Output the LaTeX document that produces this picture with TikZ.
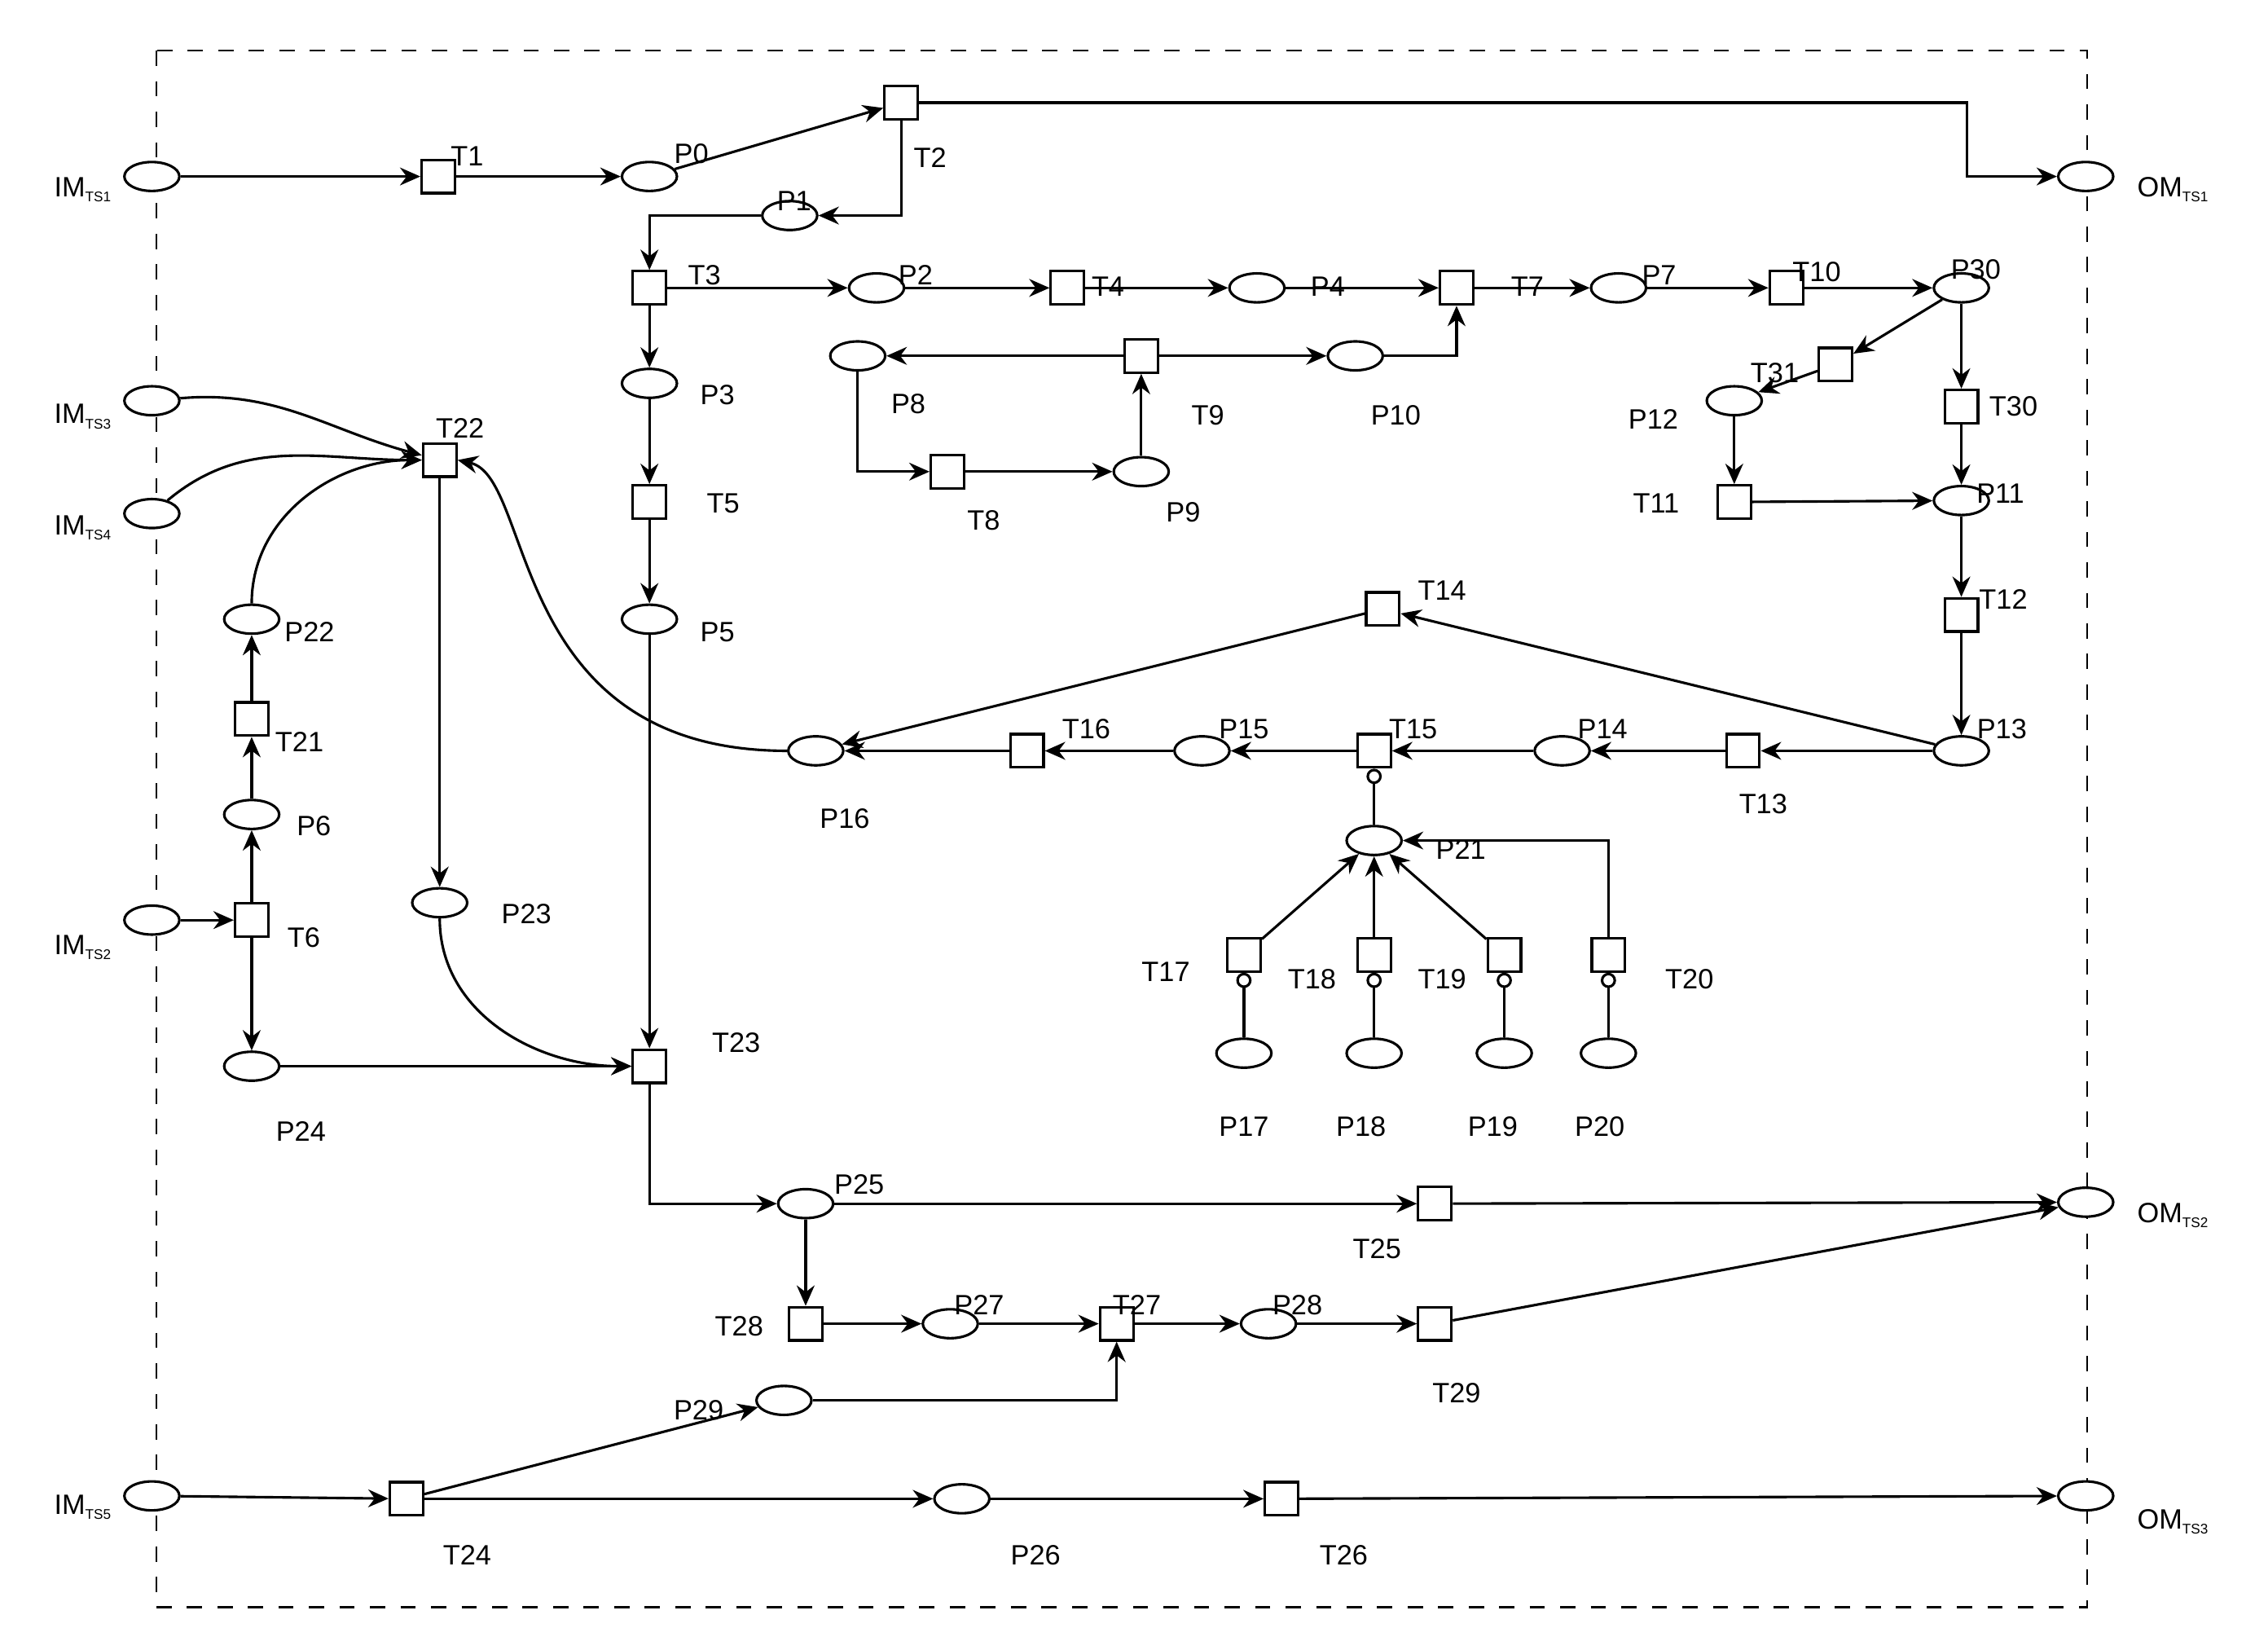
\documentclass[tikz,border=0pt]{standalone}
\usepackage{fontspec}
\setmainfont{Liberation Sans}
\usetikzlibrary{arrows.meta,shapes.geometric}
\begin{document}
\begin{tikzpicture}[x=0.01cm,y=-0.01cm,line width=0.5pt,
  pl/.style={ellipse,draw,fill=white,minimum width=0.38cm,minimum height=0.2cm,inner sep=0pt},
  tk/.style={pl,path picture={\fill (path picture bounding box.center) circle (1.1pt);}},
  tr/.style={rectangle,draw,minimum size=0.23cm,inner sep=0pt},
  lb/.style={font=\fontsize{5.5}{6}\selectfont,inner sep=0pt},
  a/.style={-{Stealth[length=4pt,width=3.5pt]}},
  inh/.style={-{Circle[open,length=3pt,width=3pt]}}]
\useasboundingbox (0,0) rectangle (1568,1140);
\draw[dashed,line width=0.4pt] (108,35) rectangle (1443,1111);
% places
\foreach \n/\x/\y in {P0/449/122,OM1/1442/122,P1/546/149,P2/606/199,P4/869/199,P7/1119/199,P30/1356/199,P10/937/246,P3/449/265,P12/1199/277,P9/789/326,P11/1356/346,P22/174/428,P5/449/428,P16/564/519,P15/831/519,P14/1080/519,P13/1356/519,P6/174/563,P21/950/581,P23/304/624,P24/174/737,P25/557/832,OM2/1442/831,P27/657/915,P28/877/915,P29/542/968,P26/665/1036,OM3/1442/1034}
  \node[pl] (\n) at (\x,\y) {};
\foreach \n/\x/\y in {IM1/105/122,P8/593/246,IM3/105/277,IM4/105/355,IM2/105/636,P17/860/728,P18/950/728,P19/1040/728,P20/1112/728,IM5/105/1034}
  \node[tk] (\n) at (\x,\y) {};
% transitions
\foreach \n/\x/\y in {T1/303/122,T2/623/71,T3/449/199,T4/738/199,T7/1007/199,T10/1235/199,T9/789/246,T31/1269/252,T30/1356/281,T5/449/347,T8/655/326,T11/1199/347,T22/304/318,T12/1356/425,T14/956/421,T21/174/497,T16/710/519,T15/950/519,T13/1205/519,T6/174/636,T17/860/660,T18/950/660,T19/1040/660,T20/1112/660,T23/449/737,T25/992/832,T28/557/915,T27/772/915,T29/992/915,T24/281/1036,T26/886/1036}
  \node[tr] (\n) at (\x,\y) {};
% labels
\foreach \t/\x/\y in {T1/323/108,P0/478/106,T2/643/109,P1/549/139,T3/487/190,P2/633/190,T4/766/198,P4/918/198,T7/1056/198,P7/1147/190,T10/1256/188,P30/1366/186,T31/1227/258,P12/1143/290,T30/1392/281,P11/1383/341,T11/1145/348,P3/496/273,T9/835/287,P10/965/287,P8/628/279,T8/680/360,P9/818/354,T5/500/348,P5/496/437,T12/1385/414,T14/997/408,P13/1384/504,T13/1219/556,P14/1108/504,T15/977/504,P15/860/504,T16/751/504,P16/584/566,P21/1010/587,T17/806/672,T18/907/677,T19/997/677,T20/1168/677,P17/860/779,P18/941/779,P19/1032/779,P20/1106/779,T22/318/296,P22/214/437,T21/207/513,P6/217/571,T6/210/648,P23/364/632,P24/208/782,T23/509/721,P25/594/819,T25/952/863,T28/511/917,P27/677/902,T27/786/902,P28/897/902,T29/1007/963,P29/483/975,T24/323/1075,P26/716/1075,T26/929/1075}
  \node[lb] at (\x,\y) {\t};
\foreach \i/\x/\y in {1/58/131,3/58/288,4/58/365,2/58/655,5/58/1042}
  \node[lb] at (\x,\y) {IM$_{\mathrm{\scriptscriptstyle TS\i}}$};
\foreach \i/\x/\y in {1/1503/131,2/1503/840,3/1503/1052}
  \node[lb] at (\x,\y) {OM$_{\mathrm{\scriptscriptstyle TS\i}}$};
% arcs
\foreach \u/\v in {IM1/T1,T1/P0,P0/T2,T3/P2,P2/T4,T4/P4,P4/T7,T7/P7,P7/T10,T10/P30,P30/T31,T31/P12,P30/T30,T30/P11,P12/T11,T11/P11,P11/T12,T12/P13,P13/T13,T13/P14,P14/T15,T15/P15,P15/T16,T16/P16,P13/T14,T14/P16,T3/P3,P3/T5,T5/P5,P5/T23,T9/P8,T9/P10,T8/P9,P9/T9,T17/P21,T18/P21,T19/P21,T21/P22,P6/T21,T6/P6,IM2/T6,T6/P24,P24/T23,T22/P23,P25/T25,T25/OM2,P25/T28,T28/P27,P27/T27,T27/P28,P28/T29,T29/OM2,T24/P29,IM5/T24,T24/P26,P26/T26,T26/OM3}
  \draw[a] (\u) -- (\v);
\draw[a] (T2) -| (1360,122) -- (OM1);
\draw[a] (T2) |- (P1);
\draw[a] (P1) -| (T3);
\draw[a] (P10) -| (T7);
\draw[a] (P8) |- (T8);
\draw[a] (T20) |- (P21);
\draw[a] (P29) -| (T27);
\draw[a] (T23) |- (P25);
\foreach \u/\v in {P21/T15,P17/T17,P18/T18,P19/T19,P20/T20}
  \draw[inh] (\u) -- (\v);
\draw[a] (IM3) to[out=5,in=165] (T22);
\draw[a] (IM4) to[out=40,in=180] (T22);
\draw[a] (P22) to[out=90,in=180] (T22);
\draw[a] (P16.west) .. controls (350,519) and (370,330) .. (T22.east);
\draw[a] (P23) to[out=-90,in=180] (T23);
\end{tikzpicture}
\end{document}
